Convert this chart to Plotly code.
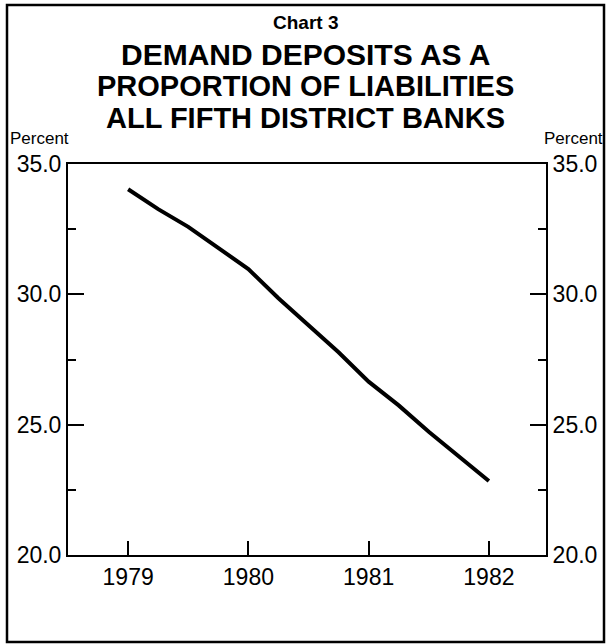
import plotly.graph_objects as go

# Data (quarterly readings from the chart)
years = [1979.0, 1979.25, 1979.5, 1979.75, 1980.0, 1980.25, 1980.5, 1980.75,
         1981.0, 1981.25, 1981.5, 1981.75, 1982.0]
percent = [34.03, 33.27, 32.59, 31.79, 30.97, 29.85, 28.79, 27.78,
           26.65, 25.74, 24.73, 23.77, 22.84]
x_ticks = [1979, 1980, 1981, 1982]
x_tick_labels = ["1979", "1980", "1981", "1982"]
y_ticks = [20, 25, 30, 35]
y_tick_labels = ["20.0", "25.0", "30.0", "35.0"]

W, H = 609, 644
L, R, T, B = 68, 63, 164, 89
pw, ph = W - L - R, H - T - B

def px(x):
    return (x - L) / pw

def py(y):
    return (H - B - y) / ph

FONT = "Liberation Sans, Arial, Helvetica, sans-serif"

fig = go.Figure()
fig.add_trace(go.Scatter(x=years, y=percent, mode="lines",
                         line=dict(color="black", width=4),
                         showlegend=False, hoverinfo="skip"))
# invisible trace for right axis
fig.add_trace(go.Scatter(x=[years[0]], y=[percent[0]], yaxis="y2", mode="markers",
                         marker=dict(opacity=0), showlegend=False, hoverinfo="skip"))

yaxis_common = dict(range=[20, 35], tickvals=y_ticks, ticktext=y_tick_labels,
                    ticks="inside", ticklen=16, tickwidth=2, tickcolor="black",
                    showline=True, linecolor="black", linewidth=2,
                    showgrid=False, zeroline=False,
                    tickfont=dict(family=FONT, size=23, color="black"),
                    minor=dict(ticks="inside", ticklen=8, tickwidth=2,
                               tickcolor="black", dtick=2.5, tick0=20, showgrid=False),
                    fixedrange=True)

fig.update_layout(
    width=W, height=H,
    margin=dict(l=L, r=R, t=T, b=B),
    paper_bgcolor="white", plot_bgcolor="white",
    xaxis=dict(range=[1978.5, 1982.475], tickvals=x_ticks, ticktext=x_tick_labels,
               ticks="inside", ticklen=14, tickwidth=2, tickcolor="black",
               showline=True, linecolor="black", linewidth=2, mirror=True,
               showgrid=False, zeroline=False, fixedrange=True,
               tickfont=dict(family=FONT, size=23, color="black")),
    yaxis=dict(side="left", **yaxis_common),
    yaxis2=dict(side="right", overlaying="y", **yaxis_common),
    showlegend=False,
)

# outer border
fig.add_shape(type="rect", xref="paper", yref="paper",
              x0=px(7), x1=px(604), y0=py(642), y1=py(5),
              line=dict(color="black", width=2.5), fillcolor="rgba(0,0,0,0)")

titles = [("Chart 3", 22, 19),
          ("DEMAND DEPOSITS AS A", 54, 30),
          ("PROPORTION OF LIABILITIES", 86, 29),
          ("ALL FIFTH DISTRICT BANKS", 118, 29)]
for text, yc, size in titles:
    fig.add_annotation(text="<b>%s</b>" % text, xref="paper", yref="paper",
                       x=px(305), y=py(yc), xanchor="center", yanchor="middle",
                       showarrow=False, font=dict(family=FONT, size=size, color="black"))

fig.add_annotation(text="Percent", xref="paper", yref="paper", x=px(8), y=py(139),
                   xanchor="left", yanchor="middle", showarrow=False,
                   font=dict(family=FONT, size=17, color="black"))
fig.add_annotation(text="Percent", xref="paper", yref="paper", x=px(605), y=py(139),
                   xanchor="right", yanchor="middle", showarrow=False,
                   font=dict(family=FONT, size=17, color="black"))

fig.write_html("out.html",
               config={"displayModeBar": False},
               post_script="document.body.style.margin='0';"
                           "document.body.style.overflow='hidden';")
